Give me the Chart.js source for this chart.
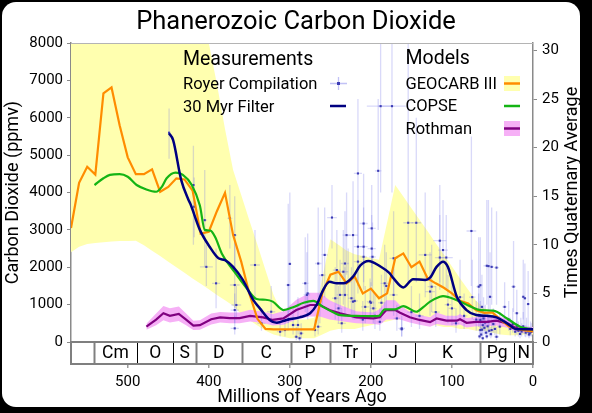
<!DOCTYPE html>
<html><head><meta charset="utf-8">
<script src="https://cdn.jsdelivr.net/npm/chart.js@4.4.1/dist/chart.umd.min.js"></script>
<style>
html,body{margin:0;padding:0;background:#000;width:592px;height:413px;overflow:hidden}
#frame{position:absolute;left:2px;top:2px;width:578px;height:405px;background:#fff;border-radius:14px}
#wrap{position:absolute;left:0;top:0;width:592px;height:413px}
</style></head><body>
<div id="frame"></div>
<div id="wrap"><canvas id="c" width="592" height="413"></canvas></div>
<script>
// ---------- DATA ----------
const xTicks = [500, 400, 300, 200, 100, 0];
const yTicks = [0,1000,2000,3000,4000,5000,6000,7000,8000];
const y2Ticks = [0,5,10,15,20,25,30];
const quaternaryAvg = 260;

const geocarbAge = [570,560,550,540,530,520,510,500,490,480,470,460,450,440,430,420,410,400,390,380,370,360,350,340,330,320,310,300,290,280,270,260,250,240,230,220,210,200,190,180,170,160,150,140,130,120,110,100,90,80,70,60,50,40,30,20,10,0];
const geocarbCO2 = [3050,4260,4690,4480,6650,6810,5800,4940,4490,4490,4620,4020,4150,4380,4350,4050,2900,2950,3500,3990,2860,2150,1300,620,350,340,340,340,340,340,340,1300,1800,1880,1570,1750,1300,1430,1170,1300,2240,2370,2000,2150,1700,1570,1450,1300,1100,1030,850,780,790,600,420,340,310,280];
const geocarbHigh = [9000,10000,10500,10500,12500,12500,11500,10500,10000,10000,10000,9500,9500,9500,9500,9000,8600,8000,6900,5700,4600,3930,3260,2600,1920,1250,800,600,600,600,650,1700,2750,2600,2450,2350,2300,2250,2200,3200,4200,3890,3580,3270,2960,2640,2340,2020,1700,1400,1100,900,800,650,500,400,350,320];
const geocarbLow = [2400,2550,2620,2650,2670,2690,2700,2700,2710,2590,2440,2300,2150,2000,1850,1700,1560,1410,1260,1120,970,740,590,440,300,200,150,100,100,100,100,200,300,350,350,350,400,450,500,550,600,600,550,500,450,450,400,400,350,350,300,300,250,200,180,180,200,200];

const copseAge = [541,530,522,510,500,489,477,465,458,452,441,432,421,411,405,398,392,384,370,353,341,330,321,308,296,283,271,259,246,238,218,197,190,183,170,160,144,135,127,115,111,94,78,65,49,32,16,4,0];
const copseCO2 = [4200,4380,4470,4490,4420,4200,4080,4020,4150,4380,4530,4470,4200,3650,3000,2980,2800,2370,1925,1430,1150,1130,1080,855,930,1050,1100,940,790,720,700,690,700,875,875,960,810,940,1080,1210,1230,1120,960,855,840,630,410,350,340];

const rothmanAge = [477,465,456,448,437,428,419,411,397,386,374,362,349,333,321,308,292,275,263,251,238,218,197,189,181,170,164,152,140,127,119,107,94,90,82,70,57,45,32,20,10,0];
const rothmanCO2 = [410,600,770,700,750,600,440,450,610,660,640,640,700,660,590,630,855,990,990,855,770,660,630,660,855,855,785,660,590,530,630,570,570,610,515,540,540,570,500,365,330,320];
const rothmanLow = [330,450,580,520,560,450,320,330,470,520,500,500,550,510,440,460,600,680,680,600,560,500,480,460,600,600,600,520,460,410,480,440,440,470,390,420,420,440,380,270,250,240];
const rothmanHigh = [490,760,960,900,950,760,570,580,760,800,790,790,860,810,750,820,1130,1320,1320,1120,990,820,790,880,1120,1120,980,800,720,660,790,700,700,750,640,670,670,700,620,470,420,400];

const filterAge = [449,444,434,425,423,411,399,388,380,370,358,345,337,325,316,304,288,275,267,259,251,242,234,222,213,203,189,177,172,160,148,133,127,119,111,105,94,82,70,57,45,32,20,4,0];
const filterCO2 = [5580,5400,4330,3800,3710,3000,2550,2240,2190,2010,1660,1120,900,590,515,590,660,770,990,1390,1610,1570,1570,1750,2050,2170,2030,1840,1700,1460,1680,1660,1720,2010,2150,2010,1210,855,720,700,660,500,340,340,340];

const royerAge = [449,419,418,405,403,391,374,368,366,368,368,368,343,335,323,312,306,302,302,300,296,292,290,288,286,281,279,278,269,265,265,263,260,257,248,244,240,238,236,242,234,232,232,230,228,224,222,222,220,216,216,216,209,209,209,207,201,200,199,199,198,197,191,189,188,174,187,183,181,172,172,168,162,162,154,144,133,127,125,115,115,111,107,76,67,65,57,55,51,45,53,63,67,61,55,51,65,65,45,41,35,24,20,22,16,12,10,6,10,4,62,60,58,64,66,59,56,54,52,49,47,63,62,57,18,14,12,8,6,3,2,15,20,25,28,30,9,5,210,195,150,140,100,90,85,75,70,95,120,105];
const royerCO2 = [5600,4200,3620,3260,2010,1570,3310,1525,990,2860,855,365,2060,500,810,275,320,1525,590,2090,455,140,455,100,230,1570,1260,1300,320,410,2100,1080,1790,2330,3330,1170,900,1260,500,1925,1880,2100,1260,2860,1610,1170,2860,1080,1100,4510,2550,2150,3170,2550,2280,940,1080,1050,3040,2500,2280,900,4580,540,6310,6310,1050,1570,1500,2240,1260,630,365,340,3190,3190,2330,1350,1480,2710,2260,2460,2260,2970,1480,1520,2040,2030,2010,1990,1210,940,720,630,540,320,320,590,140,410,940,1480,770,275,215,1210,1170,1015,320,230,450,380,250,200,150,520,420,300,210,480,350,330,100,150,300,280,420,350,280,300,270,350,400,480,350,600,250,200,600,700,800,700,900,1200,700,1200,600,500,800,1000];
const royerLow = [4900,2600,2800,2000,1500,900,2500,900,600,2000,500,200,1200,300,500,150,150,500,300,800,200,50,200,30,100,800,700,600,150,200,1200,500,1000,1200,2500,600,500,700,250,1000,1000,1200,700,1800,900,700,1800,600,600,3000,1500,1300,2000,1600,1400,500,600,600,2000,1500,1400,500,3000,300,4000,4000,600,900,800,1300,700,300,150,150,1600,1600,1200,700,800,1600,1400,1500,1400,1500,800,800,1000,1000,1000,1000,600,500,400,300,250,150,150,300,50,200,500,800,400,150,100,600,600,500,150,150,250,200,120,100,80,300,220,150,100,250,180,170,40,80,150,150,220,180,150,160,150,180,200,250,180,300,130,100,300,350,400,350,450,600,350,600,300,250,400,500];
const royerHigh = [6250,5250,4400,4600,2600,2500,4200,2800,1500,3900,1300,700,3000,900,1500,500,600,3700,1500,4000,900,400,1200,300,500,2800,2400,2900,600,800,3600,1800,3000,3600,4200,2000,1500,2200,900,3000,3000,3500,2000,4000,2500,2000,4300,1800,1700,6500,3800,3000,4500,3600,3200,1500,1700,1600,4200,3400,3200,1400,6500,900,9000,9000,1800,2600,2400,3500,2000,1000,700,600,8500,6000,4000,2400,2600,4200,3400,3800,3400,5500,2800,2800,3800,3800,3600,3500,2400,1800,1300,1200,1000,700,700,1100,400,800,1600,2700,1400,500,400,2200,2100,1900,600,400,900,800,500,400,300,1000,800,600,400,900,700,650,250,300,550,500,800,650,500,550,500,650,750,900,650,1100,450,400,1100,1300,1500,1300,1700,2200,1300,2200,1100,900,1500,1800];
const royerAgeErr = [0,2,2,3,8,5,3,6,6,3,5,5,6,5,5,4,4,3,3,2,3,3,3,3,3,4,4,3,4,4,4,3,4,4,6,4,4,4,5,5,6,5,4,5,4,4,6,4,4,5,5,5,5,5,4,5,4,4,5,5,4,4,4,4,17,17,4,5,4,5,5,4,4,3,6,6,8,6,5,8,6,6,8,6,3,3,4,3,3,3,3,3,3,3,3,3,3,3,3,3,3,3,3,2,2,2,2,2,2,2,2,2,2,2,2,2,2,2,2,2,2,2,2,2,1,1,1,1,1,1,1,1,1,2,2,2,1,1,4,4,5,5,4,4,4,4,4,4,5,4];

const periodNames = ['', 'Cm','O','S','D','C','P','Tr','J','K','Pg','N'];
const periodStart = [570, 542, 488.3, 443.7, 416, 359.2, 299, 251, 199.6, 145.5, 65.5, 23];
const periodEnd   = [542, 488.3, 443.7, 416, 359.2, 299, 251, 199.6, 145.5, 65.5, 23, 0];

// ---------- HELPERS ----------
const FONT = "Roboto, 'Liberation Sans', Arial, sans-serif";
const pts = (xs, ys) => xs.map((v, i) => ({x: v, y: ys[i]}));
const ROYER_INDEX = 4;

const errorBars = {
  id: 'errorBars',
  beforeDatasetDraw(chart, args) {
    if (args.index !== ROYER_INDEX) return;
    const {ctx, chartArea: a, scales: {x, y}} = chart;
    ctx.save();
    ctx.beginPath(); ctx.rect(a.left, a.top, a.right - a.left, a.bottom - a.top); ctx.clip();
    ctx.strokeStyle = 'rgba(120,120,235,0.28)';
    ctx.lineWidth = 1.3;
    for (let i = 0; i < royerAge.length; i++) {
      const px = x.getPixelForValue(royerAge[i]);
      const py = y.getPixelForValue(royerCO2[i]);
      ctx.beginPath();
      ctx.moveTo(px, y.getPixelForValue(royerLow[i]));
      ctx.lineTo(px, y.getPixelForValue(royerHigh[i]));
      if (royerAgeErr[i] > 0) {
        ctx.moveTo(x.getPixelForValue(royerAge[i] + royerAgeErr[i]), py);
        ctx.lineTo(x.getPixelForValue(royerAge[i] - royerAgeErr[i]), py);
      }
      ctx.stroke();
    }
    ctx.restore();
  }
};

const decor = {
  id: 'decor',
  afterDraw(chart) {
    const {ctx, chartArea: a, scales: {x}} = chart;
    ctx.save();
    // top frame line
    ctx.strokeStyle = '#b4b4b4'; ctx.lineWidth = 1;
    ctx.beginPath(); ctx.moveTo(a.left, a.top + 0.5); ctx.lineTo(a.right, a.top + 0.5); ctx.stroke();
    // geologic band
    const top = a.bottom, h = 22;
    ctx.fillStyle = '#fff';
    ctx.fillRect(a.left, top, a.right - a.left, h);
    const divColor = ['', '#808080', '#000', '#000', '#808080', '#808080', '#808080', '#808080', '#000', '#000', '#808080', '#000'];
    for (let i = 1; i < periodStart.length; i++) {
      const px = Math.round(x.getPixelForValue(periodStart[i])) + 0.5;
      ctx.strokeStyle = divColor[i];
      ctx.lineWidth = divColor[i] === '#000' ? 1 : 2;
      ctx.beginPath(); ctx.moveTo(px, top); ctx.lineTo(px, top + h); ctx.stroke();
    }
    ctx.fillStyle = '#000';
    ctx.font = '17.5px ' + FONT;
    ctx.textAlign = 'center'; ctx.textBaseline = 'middle';
    for (let i = 0; i < periodNames.length; i++) {
      const cx = (x.getPixelForValue(periodStart[i]) + x.getPixelForValue(periodEnd[i])) / 2;
      ctx.fillText(periodNames[i], cx, top + h / 2 + 1);
    }
    ctx.strokeStyle = '#7f7f7f'; ctx.lineWidth = 2;
    ctx.strokeRect(a.left, top, a.right - a.left, h);

    // right axis title (reads bottom to top)
    ctx.save();
    ctx.translate(572, (a.top + a.bottom) / 2);
    ctx.rotate(-Math.PI / 2);
    ctx.font = '18px ' + FONT;
    ctx.textAlign = 'center'; ctx.textBaseline = 'middle';
    ctx.fillText('Times Quaternary Average', 0, 0);
    ctx.restore();

    // title
    ctx.fillStyle = '#000';
    ctx.font = '25.5px ' + FONT;
    ctx.textAlign = 'center'; ctx.textBaseline = 'alphabetic';
    ctx.fillText('Phanerozoic Carbon Dioxide', 296, 29);

    // legend
    ctx.textAlign = 'left';
    ctx.font = '19.5px ' + FONT;
    ctx.fillText('Measurements', 183, 64.5);
    ctx.fillText('Models', 405.5, 63.5);
    ctx.font = '16.5px ' + FONT;
    ctx.fillText('Royer Compilation', 183, 88.5);
    ctx.fillText('30 Myr Filter', 183, 111.5);
    ctx.fillText('GEOCARB III', 405.5, 88.5);
    ctx.fillText('COPSE', 405.5, 111);
    ctx.fillText('Rothman', 405.5, 133.5);
    // royer marker
    ctx.strokeStyle = 'rgba(120,120,235,0.45)'; ctx.lineWidth = 1.3;
    ctx.beginPath();
    ctx.moveTo(330, 83.5); ctx.lineTo(347, 83.5);
    ctx.moveTo(338.5, 77); ctx.lineTo(338.5, 90);
    ctx.stroke();
    ctx.fillStyle = '#3c3cb4'; ctx.fillRect(337, 82, 3, 3);
    // filter marker
    ctx.strokeStyle = '#000080'; ctx.lineWidth = 2.5;
    ctx.beginPath(); ctx.moveTo(330, 106); ctx.lineTo(346, 106); ctx.stroke();
    // geocarb marker
    ctx.fillStyle = 'rgb(255,255,175)'; ctx.fillRect(504, 76, 16, 15);
    ctx.strokeStyle = '#ff8c00'; ctx.lineWidth = 2.5;
    ctx.beginPath(); ctx.moveTo(504, 83.5); ctx.lineTo(520, 83.5); ctx.stroke();
    // copse marker
    ctx.strokeStyle = '#14b414';
    ctx.beginPath(); ctx.moveTo(504, 106); ctx.lineTo(520, 106); ctx.stroke();
    // rothman marker
    ctx.fillStyle = 'rgb(246,176,246)'; ctx.fillRect(504, 121, 16, 15);
    ctx.strokeStyle = '#800080';
    ctx.beginPath(); ctx.moveTo(504, 128.5); ctx.lineTo(520, 128.5); ctx.stroke();
    ctx.restore();
  }
};

Chart.defaults.font.family = FONT;
Chart.defaults.color = '#000';
const plain = v => String(v);

new Chart(document.getElementById('c'), {
  type: 'line',
  data: {
    datasets: [
      { label: '30 Myr Filter', data: pts(filterAge, filterCO2), borderColor: '#000080', borderWidth: 2.5, pointRadius: 0, cubicInterpolationMode: 'monotone', fill: false },
      { label: 'COPSE', data: pts(copseAge, copseCO2), borderColor: '#14b414', borderWidth: 2.2, pointRadius: 0, cubicInterpolationMode: 'monotone', fill: false },
      { label: 'GEOCARB III', data: pts(geocarbAge, geocarbCO2), borderColor: '#ff8c00', borderWidth: 2.2, pointRadius: 0, tension: 0, fill: false },
      { label: 'Rothman', data: pts(rothmanAge, rothmanCO2), borderColor: '#800080', borderWidth: 2.2, pointRadius: 0, tension: 0, fill: false },
      { label: 'Royer Compilation', data: pts(royerAge, royerCO2), showLine: false, pointStyle: 'rect', pointRadius: 1.5, pointBackgroundColor: '#3c3cb4', pointBorderWidth: 0, borderColor: '#3c3cb4', fill: false },
      { label: 'Rothman high', data: pts(rothmanAge, rothmanHigh), borderWidth: 0, pointRadius: 0, fill: '+1', backgroundColor: 'rgb(246,176,246)', borderColor: 'rgba(0,0,0,0)' },
      { label: 'Rothman low', data: pts(rothmanAge, rothmanLow), borderWidth: 0, pointRadius: 0, fill: false, borderColor: 'rgba(0,0,0,0)' },
      { label: 'GEOCARB high', data: pts(geocarbAge, geocarbHigh), borderWidth: 0, pointRadius: 0, fill: '+1', backgroundColor: 'rgb(255,255,175)', borderColor: 'rgba(0,0,0,0)' },
      { label: 'GEOCARB low', data: pts(geocarbAge, geocarbLow), borderWidth: 0, pointRadius: 0, fill: false, borderColor: 'rgba(0,0,0,0)' }
    ]
  },
  options: {
    responsive: false,
    animation: false,
    devicePixelRatio: 1,
    events: [],
    layout: { padding: { top: 43, left: 0, right: 0, bottom: 0 } },
    plugins: { legend: { display: false }, title: { display: false }, tooltip: { enabled: false } },
    scales: {
      x: {
        type: 'linear', position: 'bottom', reverse: true, min: 0, max: 570,
        afterFit: s => { s.height = 71; },
        afterBuildTicks: s => { s.ticks = xTicks.map(v => ({value: v})); },
        grid: { drawOnChartArea: false, tickLength: 26, color: '#9a9a9a', lineWidth: 1.5 },
        border: { display: true, color: '#7f7f7f', width: 2 },
        ticks: { font: { size: 15 }, padding: 5, color: '#000', maxRotation: 0, callback: plain },
        title: { display: true, text: 'Millions of Years Ago', font: { size: 18 }, padding: { top: 0, bottom: 5 }, color: '#000' }
      },
      y: {
        type: 'linear', position: 'left', min: 0, max: 8000,
        afterFit: s => { s.width = 71; },
        afterBuildTicks: s => { s.ticks = yTicks.map(v => ({value: v})); },
        grid: { drawOnChartArea: false, tickLength: 4, color: '#8a8a8a' },
        border: { display: true, color: '#8a8a8a', width: 1.5 },
        ticks: { font: { size: 15 }, padding: 4, color: '#000', callback: plain },
        title: { display: true, text: 'Carbon Dioxide (ppmv)', font: { size: 18 }, padding: { top: 3, bottom: 0 }, color: '#000' }
      },
      y2: {
        type: 'linear', position: 'right', min: 0, max: 8000 / quaternaryAvg,
        afterFit: s => { s.width = 59; },
        afterBuildTicks: s => { s.ticks = y2Ticks.map(v => ({value: v})); },
        grid: { drawOnChartArea: false, tickLength: 4, color: '#8a8a8a' },
        border: { display: true, color: '#8a8a8a', width: 1.5 },
        ticks: { font: { size: 15 }, padding: 5, color: '#000', callback: plain },
        title: { display: false }
      }
    }
  },
  plugins: [errorBars, decor]
});
</script></body></html>
